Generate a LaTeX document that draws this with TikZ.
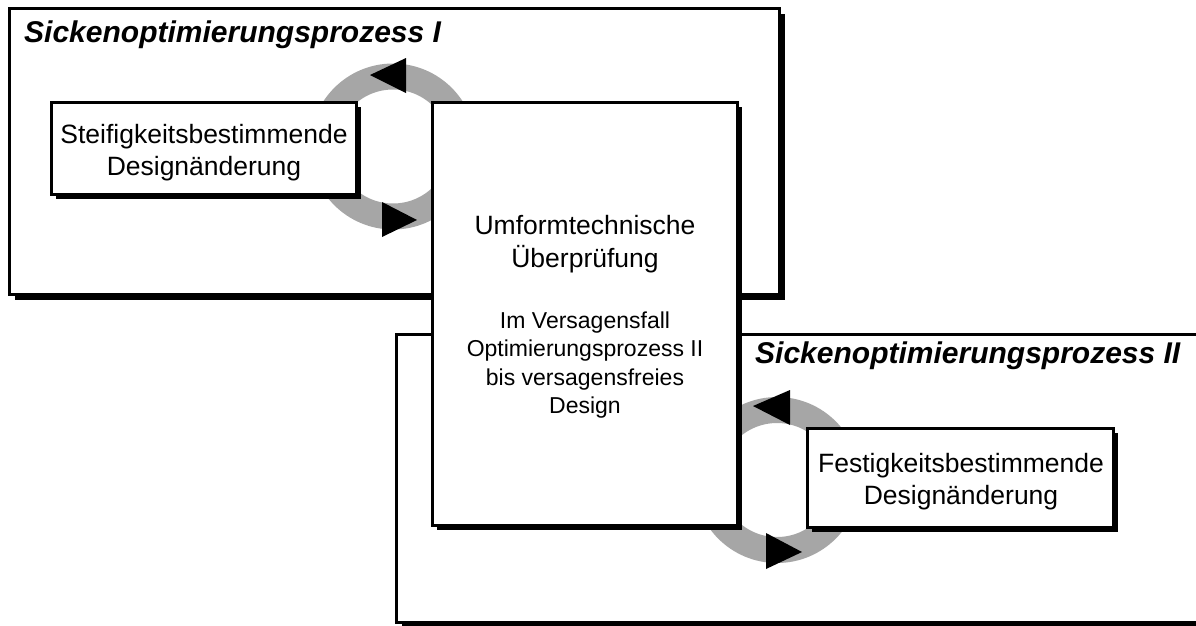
\documentclass[tikz,border=0pt]{standalone}
\usepackage{fontspec}
\setmainfont{Liberation Sans}
\usetikzlibrary{shadows}
\definecolor{ringgray}{RGB}{166,166,166}
\newcommand{\lines}[1]{\begin{tabular}[t]{@{}c@{}}#1\end{tabular}}
\begin{document}
\begin{tikzpicture}[x=1pt,y=-1pt,
  boxline/.style={draw=black,line width=3pt,fill=white,inner sep=0pt,
    drop shadow={shadow xshift=5pt,shadow yshift=-5pt,fill=black,opacity=1}},
  frame/.style={boxline,anchor=north west},
  stepbox/.style={boxline},
  steptext/.style={anchor=base,inner sep=0pt,font=\fontsize{26.5}{32}\selectfont},
  notetext/.style={anchor=base,inner sep=0pt,font=\fontsize{23}{28.5}\selectfont},
  title/.style={anchor=base west,inner sep=0pt,font=\fontsize{30}{34}\selectfont\bfseries\itshape},
  ring/.style={draw=ringgray,line width=26pt},
  tip/.style={fill=black,draw=none}
]
\clip (0,0) rectangle (1196,625);
\fill[white] (0,0) rectangle (1196,625);

% outer frames of the two optimisation loops
\node[frame,minimum width=770,minimum height=286] (proc1) at (8,7) {};
\node[frame,minimum width=840,minimum height=288] (proc2) at (395,333) {};
\node[title] (t1) at (24,42) {Sickenoptimierungsprozess I};
\node[title] (t2) at (755,363) {Sickenoptimierungsprozess II};

% loop I: ring with its two arrowheads
\coordinate (c1) at (393,146.5);
\draw[ring] (c1) circle[radius=70];
\fill[tip] (370,75) -- (406,58) -- (406,93) -- cycle;
\fill[tip] (382,202) -- (382,237) -- (417,220) -- cycle;

% loop II: ring with its two arrowheads
\coordinate (c2) at (777,480);
\draw[ring] (c2) circle[radius=70];
\fill[tip] (753,406) -- (790,390) -- (790,425) -- cycle;
\fill[tip] (766,533) -- (766,569) -- (802,552) -- cycle;

% process steps
\node[stepbox,minimum width=305,minimum height=92] (steif) at (203.5,148) {};
\node[steptext] (steiftext) at (204,143)
  {\lines{Steifigkeitsbestimmende\\Designänderung}};

\node[stepbox,minimum width=306,minimum height=99] (fest) at (960,477.5) {};
\node[steptext] (festtext) at (961,472)
  {\lines{Festigkeitsbestimmende\\Designänderung}};

\node[stepbox,minimum width=305,minimum height=423] (check) at (584.5,313.5) {};
\node[steptext,font=\fontsize{26.5}{33}\selectfont] (checkhead) at (585,234)
  {\lines{Umformtechnische\\Überprüfung}};
\node[notetext] (checknote) at (585,328)
  {\lines{Im Versagensfall\\Optimierungsprozess II\\bis versagensfreies\\Design}};
\end{tikzpicture}
\end{document}
